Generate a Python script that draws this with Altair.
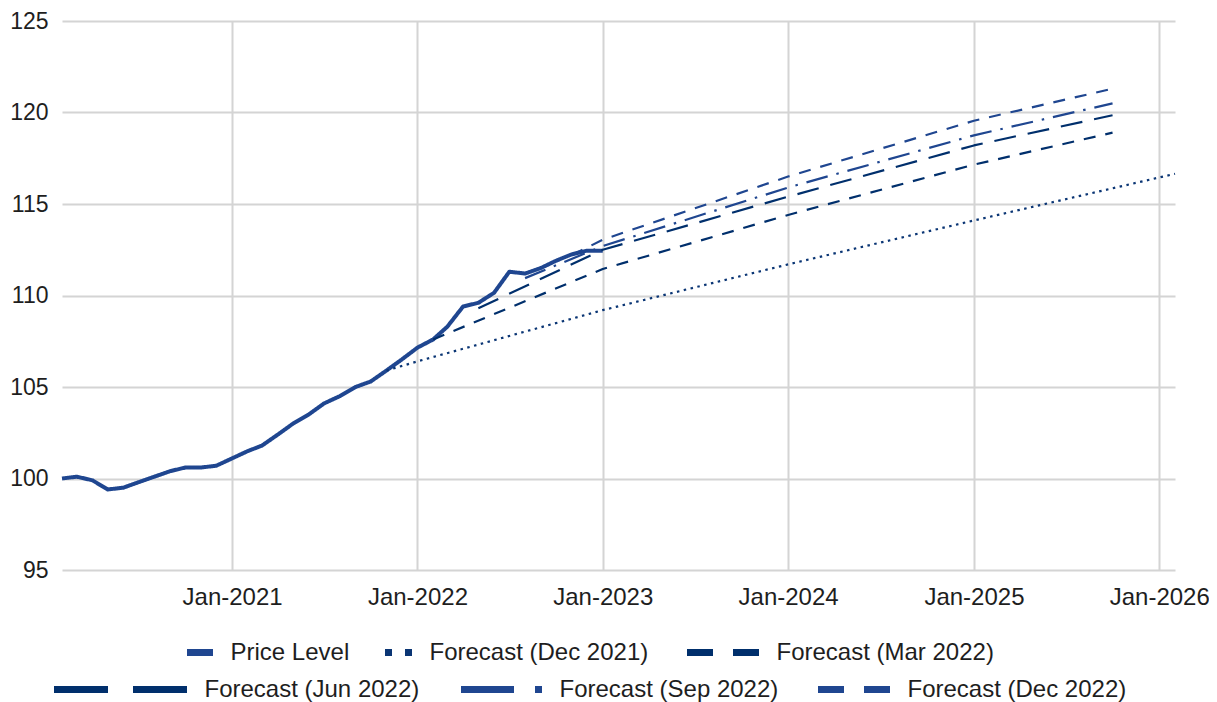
import altair as alt
import pandas as pd

FONT = "Liberation Sans"
TXT = "#1e1e1e"
GRID = "#d4d4d4"

# ---- data -----------------------------------------------------------------
price_dates = pd.date_range("2020-02-01", "2023-01-01", freq="MS").strftime("%Y-%m-%dT00:00:00").tolist()
price_values = [100.0, 100.1, 99.9, 99.4, 99.5, 99.8, 100.1, 100.4, 100.6, 100.6, 100.7,
                101.1, 101.5, 101.8, 102.4, 103.0, 103.5, 104.1, 104.5, 105.0, 105.3, 105.9, 106.5,
                107.15, 107.6, 108.3, 109.4, 109.6, 110.15, 111.3, 111.2, 111.5, 111.9, 112.25, 112.45,
                112.45]

dec21_dates = ["2021-11-01", "2022-01-01", "2023-01-01", "2024-01-01", "2025-01-01", "2026-01-01", "2026-02-01"]
dec21_values = [105.9, 106.4, 109.2, 111.7, 114.1, 116.45, 116.65]

mar22_dates = ["2022-02-01", "2023-01-01", "2024-01-01", "2025-01-01", "2025-10-01"]
mar22_values = [107.6, 111.45, 114.4, 117.15, 118.9]

jun22_dates = ["2022-05-01", "2023-01-01", "2024-01-01", "2025-01-01", "2025-10-01"]
jun22_values = [109.3, 112.5, 115.4, 118.2, 119.85]

sep22_dates = ["2022-08-01", "2023-01-01", "2024-01-01", "2025-01-01", "2025-10-01"]
sep22_values = [110.95, 112.7, 115.9, 118.75, 120.5]

dec22_dates = ["2022-11-01", "2023-01-01", "2024-01-01", "2025-01-01", "2025-10-01"]
dec22_values = [112.2, 113.05, 116.5, 119.55, 121.3]

series_names = ["Price Level", "Forecast (Dec 2021)", "Forecast (Mar 2022)",
                "Forecast (Jun 2022)", "Forecast (Sep 2022)", "Forecast (Dec 2022)"]
y_ticks = [95, 100, 105, 110, 115, 120, 125]
x_tick_years = [2021, 2022, 2023, 2024, 2025, 2026]

# ---- styles ---------------------------------------------------------------
MID = "#1F4690"
DARK = "#002F6C"
styles = [
    # color, line width, line dash, legend symbol length, legend dash, legendX, legendY
    dict(color=MID, width=4.0, dash=[1, 0], L=26, ldash=None, lx=121.5, ly=619),
    dict(color="#0A3574", width=2.2, dash=[2.5, 4.5], L=27, ldash=[7, 13], lx=319.5, ly=619),
    dict(color=DARK, width=2.2, dash=[12, 10], L=72, ldash=[26, 20], lx=621.5, ly=619),
    dict(color=DARK, width=2.2, dash=[22, 12], L=133, ldash=[54, 25], lx=-11.5, ly=656),
    dict(color=MID, width=2.2, dash=[22, 9, 2.5, 9], L=81, ldash=[53, 21, 7, 100], lx=395.5, ly=656),
    dict(color=MID, width=2.2, dash=[12, 10], L=72, ldash=[26, 20], lx=752.5, ly=656),
]

all_dates = [price_dates, dec21_dates, mar22_dates, jun22_dates, sep22_dates, dec22_dates]
all_values = [price_values, dec21_values, mar22_values, jun22_values, sep22_values, dec22_values]

x_enc = alt.X(
    "date:T",
    scale=alt.Scale(domain=[alt.DateTime(year=2020, month=2, date=1),
                            alt.DateTime(year=2026, month=2, date=1)]),
    axis=alt.Axis(values=[alt.DateTime(year=y, month=1, date=1) for y in x_tick_years],
                  format="%b-%Y", title=None, domain=False, ticks=False,
                  grid=True, gridColor=GRID, gridWidth=2,
                  labelFont=FONT, labelFontSize=24, labelColor=TXT, labelPadding=15,
                  labelOverlap=False, labelFlush=False),
)
y_enc = alt.Y(
    "value:Q",
    scale=alt.Scale(domain=[95, 125], nice=False, zero=False),
    axis=alt.Axis(values=y_ticks, title=None, domain=False, ticks=False,
                  grid=True, gridColor=GRID, gridWidth=2,
                  labelFont=FONT, labelFontSize=23, labelColor=TXT, labelPadding=14),
)

layers = []
for name, dates, vals, st in zip(series_names, all_dates, all_values, styles):
    df = pd.DataFrame({"date": [d if "T" in d else d + "T00:00:00" for d in dates],
                       "value": vals, "series": name})
    leg_kw = dict(orient="none", legendX=st["lx"], legendY=st["ly"], title=None,
                  direction="vertical", symbolType="stroke", symbolSize=st["L"] ** 2,
                  symbolStrokeWidth=7, symbolOffset=0, padding=0, clipHeight=25,
                  labelFont=FONT, labelFontSize=24, labelColor=TXT, labelOffset=14,
                  labelLimit=0)
    if st["ldash"]:
        leg_kw["symbolDash"] = st["ldash"]
    layer = alt.Chart(df).mark_line(strokeCap="butt", strokeJoin="round").encode(
        x=x_enc, y=y_enc,
        strokeWidth=alt.value(st["width"]),
        strokeDash=alt.value(st["dash"]),
        color=alt.Color("series:N", scale=alt.Scale(domain=[name], range=[st["color"]]),
                        legend=alt.Legend(**leg_kw)),
    )
    layers.append(layer)

chart = alt.layer(*layers).resolve_scale(color="independent").properties(
    width=1113, height=549,
    autosize=alt.AutoSizeParams(type="none"),
    padding={"left": 54, "top": 13, "right": 34, "bottom": 132},
).configure_view(stroke=None)

chart.save("out.html", embed_options={"renderer": "svg", "actions": False})
